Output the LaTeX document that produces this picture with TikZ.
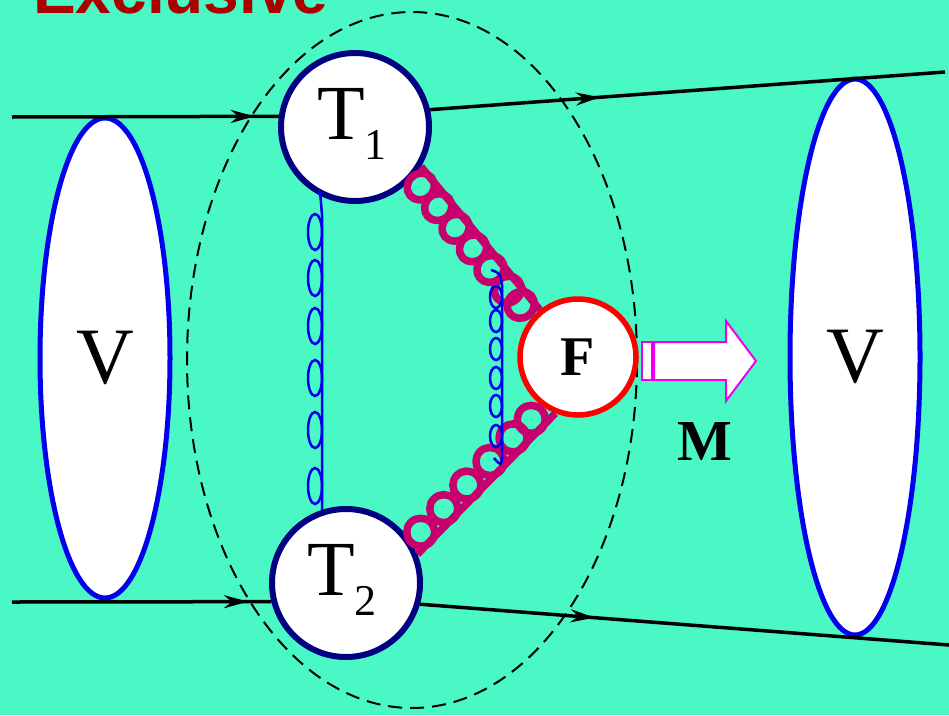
\documentclass[tikz,border=0pt]{standalone}
\usepackage{fontspec}
\setmainfont{Liberation Serif}
\newfontfamily\titlefont{Liberation Sans}
\usetikzlibrary{shapes.geometric,arrows.meta,decorations.markings}
\definecolor{bgc}{HTML}{4AF8C6}
\definecolor{vblue}{HTML}{0000EE}
\definecolor{tnavy}{HTML}{000080}
\definecolor{glu}{HTML}{C8006E}
\definecolor{arrmag}{HTML}{EE00EE}
\definecolor{titred}{HTML}{AA0000}
\tikzset{
  vell/.style={ellipse, draw=vblue, fill=white, line width=5pt, inner sep=0pt},
  tcirc/.style={circle, draw=tnavy, fill=white, line width=6pt, minimum size=148pt, inner sep=0pt},
  fcirc/.style={circle, draw=red, fill=white, line width=5.5pt, minimum size=116pt, inner sep=0pt},
  quark/.style={line width=3.5pt, postaction={decorate}},
  bline/.style={draw=vblue, line width=2.5pt},
  magline/.style={draw=glu, line width=7.5pt, line join=round},
  bigtext/.style={font=\fontsize{80}{80}\selectfont},
}
\newcommand{\Tsub}[1]{T\raisebox{-20pt}{\fontsize{44}{44}\selectfont #1}}
\begin{document}
\begin{tikzpicture}[x=1pt,y=-1pt]
\fill[bgc] (0,0) rectangle (949,715);
\useasboundingbox (0,0) rectangle (949,715);
% title
\node[anchor=base west, inner sep=0pt, text=titred, font=\titlefont\bfseries\fontsize{64}{64}\selectfont] (title) at (33,13) {Exclusive};
% dashed ellipse
\node[ellipse, draw=black, dash pattern=on 14pt off 8pt, line width=2pt, minimum width=450pt, minimum height=696pt, inner sep=0pt] (blob) at (412,360) {};
% V ellipses
\node[vell, minimum width=130pt, minimum height=480pt, bigtext] (VL) at (105,358) {V};
\node[vell, minimum width=130pt, minimum height=556pt, bigtext] (VR) at (855,357) {V};
% circles
\node[tcirc] (T1) at (355,127) {};
\node[tcirc] (T2) at (346,583) {};
\node[fcirc, font=\bfseries\fontsize{56}{56}\selectfont] (F) at (578,357) {F};
\node[font=\fontsize{78}{78}\selectfont] (T1t) at (352,124) {\Tsub{1}};
\node[font=\fontsize{78}{78}\selectfont] (T2t) at (342,580) {\Tsub{2}};
% quark lines
\coordinate (a1) at (12,117);
\coordinate (a2) at (945,72);
\coordinate (b1) at (12,602);
\coordinate (b2) at (949,645);
\begin{scope}[decoration={markings, mark=at position 0.91 with {\arrow{Stealth[length=24pt,width=13pt]}}}]
\draw[quark] (a1) -- (T1.172);
\draw[quark] (b1) -- (T2.-166);
\end{scope}
\begin{scope}[decoration={markings, mark=at position 0.33 with {\arrow{Stealth[length=24pt,width=13pt]}}}]
\draw[quark] (T1.13) -- (a2);
\draw[quark] (T2.-16) -- (b2);
\end{scope}
% magenta gluons: straight line plus loops on the inner side
\draw[magline] (T1.-31) -- (F.129);
\begin{scope}[shift={(T1.-31)}, rotate=-49.8]
  \foreach \s in {15,42,69,96,123,150,170}
    \draw[magline] (\s,13) ellipse [x radius=13pt, y radius=14pt];
\end{scope}
\draw[magline] (T2.22) -- (F.-112);
\begin{scope}[shift={(T2.22)}, rotate=45.6]
  \foreach \s in {18,51,84,117,150,176}
    \draw[magline] (\s,-13) ellipse [x radius=14pt, y radius=14pt];
\end{scope}
% left blue gluon
\draw[bline] (T1.-118) .. controls (320,190) .. (322,215) -- (T2.108);
\foreach \yc in {232,278,326,378,430,486}
  \draw[bline] (315,\yc) ellipse [x radius=7pt, y radius=18pt];
% right blue gluon
\coordinate (g1) at (491,270);
\coordinate (g2) at (494,458);
\draw[bline] (g1) .. controls (500,273) .. (502,285) -- (502,458) .. controls (501,466) .. (g2);
\foreach \yc in {297,321,349,378,406,436}
  \draw[bline] (496,\yc) ellipse [x radius=6pt, y radius=11pt];
% fat arrow
\draw[arrmag, fill=white, line width=2pt] (642,342) rectangle (652,380);
\draw[arrmag, fill=white, line width=2pt] (654,342) -- (726,342) -- (726,321) -- (756,361) -- (726,401) -- (726,380) -- (654,380) -- cycle;
\node[font=\bfseries\fontsize{58}{58}\selectfont] (M) at (705,442) {M};
\end{tikzpicture}
\end{document}
